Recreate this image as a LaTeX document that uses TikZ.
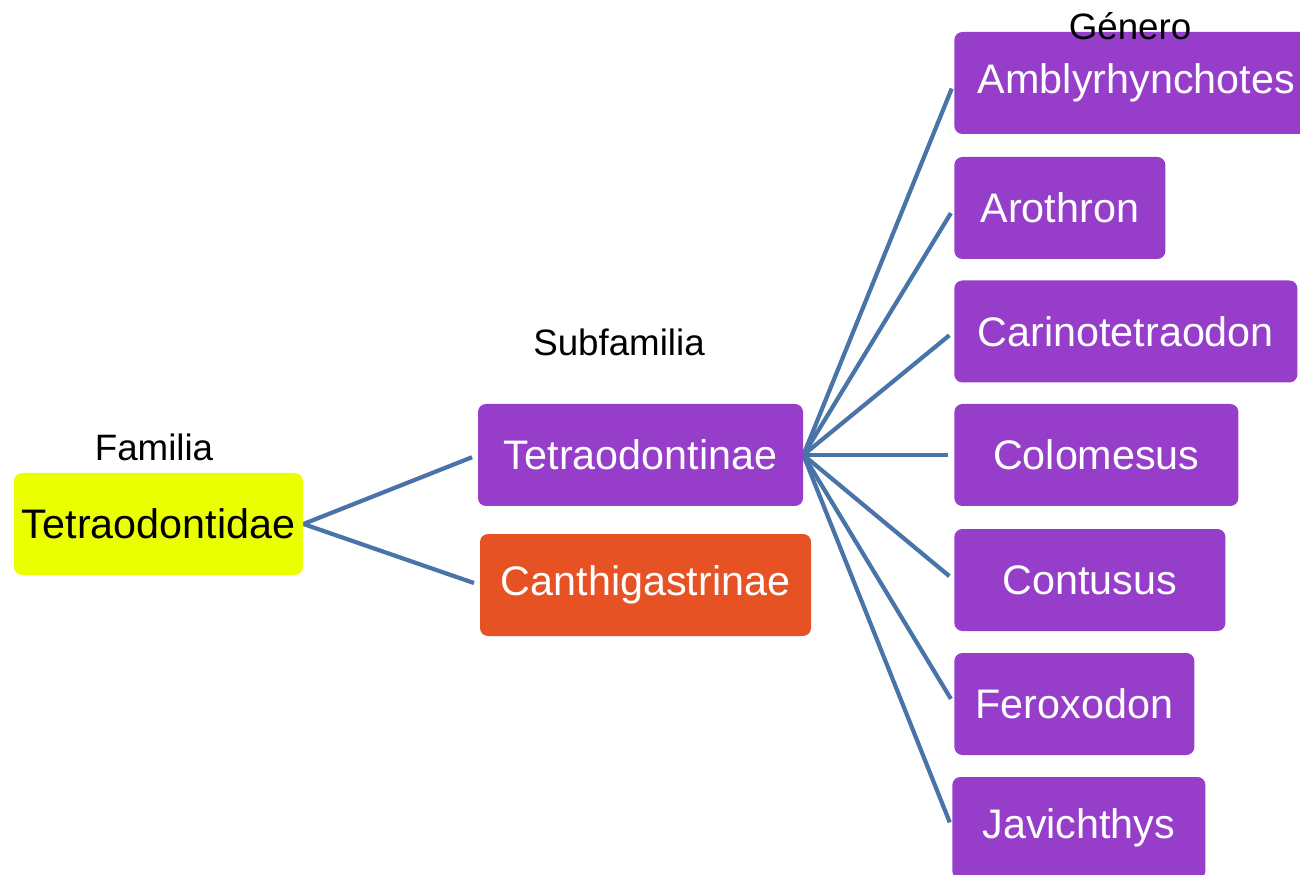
\documentclass[tikz,border=0pt]{standalone}
\usepackage{fontspec}
\setmainfont{Liberation Sans}
\pgfdeclarelayer{bg}
\pgfsetlayers{bg,main}
\definecolor{famyellow}{RGB}{234,255,0}
\definecolor{taxpurple}{RGB}{150,62,202}
\definecolor{taxorange}{RGB}{230,82,36}
\definecolor{linkblue}{RGB}{72,116,168}
\tikzset{
    taxon/.style={rectangle, rounded corners=1.6mm, inner sep=0mm, minimum height=2.04cm, text=white, font=\fontsize{23.5}{28}\selectfont},
    rank/.style={inner sep=0mm, text=black, font=\fontsize{20.9}{25}\selectfont},
    link/.style={draw=linkblue, line width=2.4pt, shorten >=0.12cm}
}

\begin{document}
\begin{tikzpicture}
        \useasboundingbox (0cm, 0cm) rectangle (26cm, -17.5cm);
        \node (f0) [taxon, fill=famyellow, text=black, minimum width=5.78cm] at (3.170000cm, -10.480000cm) {Tetraodontidae};
        \node (s0) [taxon, fill=taxpurple, minimum width=6.50cm] at (12.810000cm, -9.100000cm) {Tetraodontinae};
        \node (s1) [taxon, fill=taxorange, minimum width=6.62cm] at (12.910000cm, -11.700000cm) {Canthigastrinae};
        \node (g0) [taxon, fill=taxpurple, anchor=west, minimum width=7.28cm] at (19.080000cm, -1.660000cm) {Amblyrhynchotes};
        \node (g1) [taxon, fill=taxpurple, anchor=west, minimum width=4.22cm] at (19.080000cm, -4.160000cm) {Arothron};
        \node (g2) [taxon, fill=taxpurple, anchor=west, minimum width=6.86cm] at (19.080000cm, -6.630000cm) {Carinotetraodon};
        \node (g3) [taxon, fill=taxpurple, anchor=west, minimum width=5.68cm] at (19.080000cm, -9.100000cm) {Colomesus};
        \node (g4) [taxon, fill=taxpurple, anchor=west, minimum width=5.42cm] at (19.080000cm, -11.600000cm) {Contusus};
        \node (g5) [taxon, fill=taxpurple, anchor=west, minimum width=4.80cm] at (19.080000cm, -14.080000cm) {Feroxodon};
        \node (g6) [taxon, fill=taxpurple, anchor=west, minimum width=5.06cm] at (19.040000cm, -16.560000cm) {Javichthys};
        \node (t0) [rank] at (3.080000cm, -8.940000cm) {Familia};
        \node (t1) [rank] at (12.380000cm, -6.840000cm) {Subfamilia};
        \node (t2) [rank] at (22.600000cm, -0.520000cm) {Género};
        \begin{pgfonlayer}{bg}
                \draw (f0.east) edge [link] (s0.west);
                \draw (f0.east) edge [link] (s1.west);
                \draw (s0.east) edge [link] (g0.west);
                \draw (s0.east) edge [link] (g1.west);
                \draw (s0.east) edge [link] (g2.west);
                \draw (s0.east) edge [link] (g3.west);
                \draw (s0.east) edge [link] (g4.west);
                \draw (s0.east) edge [link] (g5.west);
                \draw (s0.east) edge [link] (g6.west);
        \end{pgfonlayer}
\end{tikzpicture}
\end{document}
